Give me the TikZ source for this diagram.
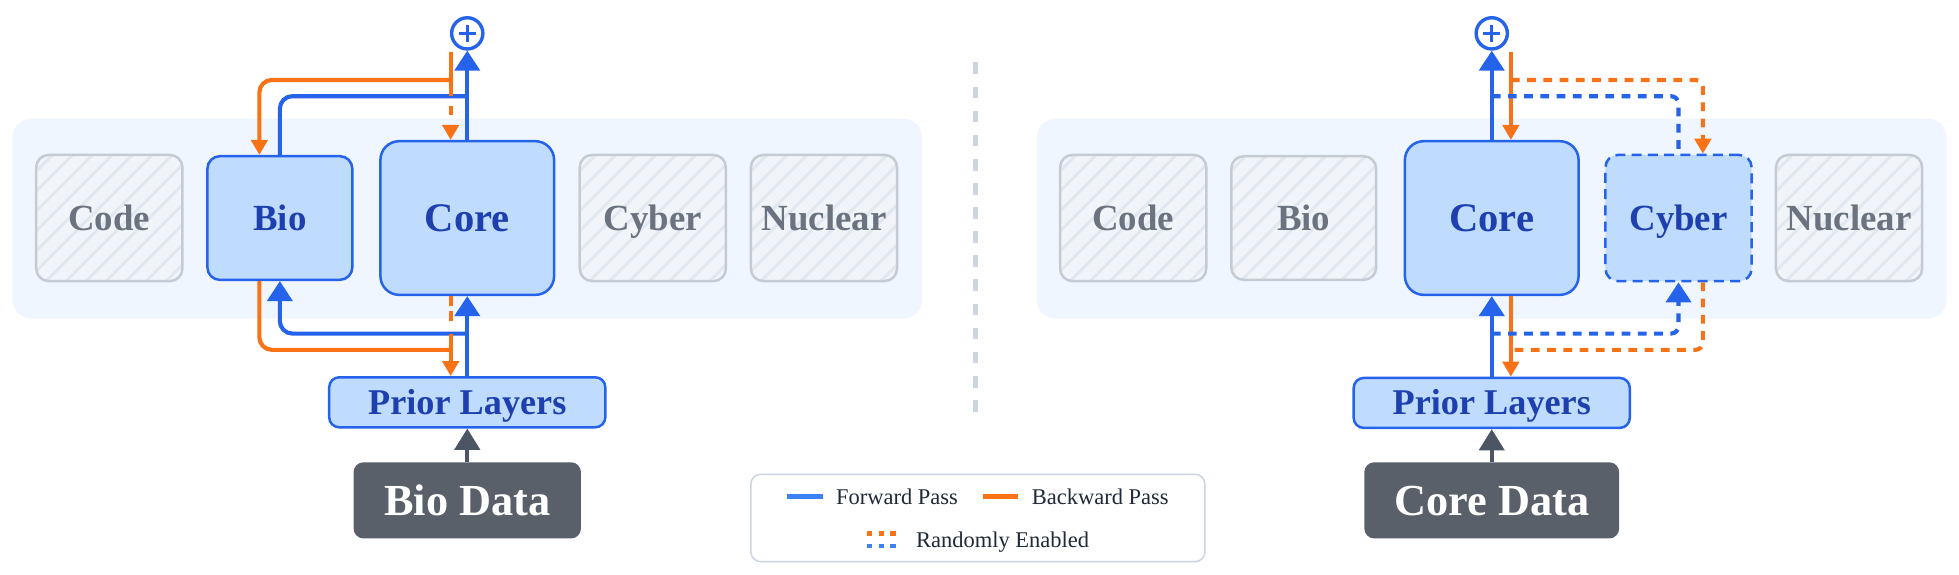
\documentclass[tikz,border=0pt]{standalone}
\usepackage{fontspec}
\setmainfont{Liberation Serif}
\usetikzlibrary{arrows.meta,calc}
\definecolor{panelbg}{HTML}{EFF6FF}
\definecolor{actfill}{HTML}{BFDBFE}
\definecolor{actdraw}{HTML}{2563EB}
\definecolor{acttext}{HTML}{1E40AF}
\definecolor{inafill}{HTML}{F1F5F9}
\definecolor{inadraw}{HTML}{C5CBD3}
\definecolor{inahatch}{HTML}{E2E8F0}
\definecolor{inatext}{HTML}{6B7280}
\definecolor{fwd}{HTML}{2563EB}
\definecolor{bwd}{HTML}{F97316}
\definecolor{datafill}{HTML}{5A6069}
\definecolor{grayarrow}{HTML}{4B5563}
\definecolor{legfwd}{HTML}{3B82F6}
\definecolor{legdraw}{HTML}{CBD5E1}
\definecolor{legtext}{HTML}{1F2937}
\definecolor{sepcol}{HTML}{CBD5E1}
\tikzset{
 panel/.style={fill=panelbg, rounded corners=15pt, minimum width=728pt, minimum height=160pt, inner sep=0pt},
 expert/.style={rounded corners=10pt, line width=2pt, minimum width=117pt, minimum height=101pt, inner sep=0pt,
   font=\fontsize{29.5}{31}\selectfont\bfseries, text height=19.5pt, text depth=0pt},
 active/.style={expert, fill=actfill, draw=actdraw, text=acttext},
 inactive/.style={expert, fill=inafill, draw=inadraw, text=inatext,
   path picture={\foreach \i in {-8,...,8}{\draw[inahatch, line width=2.4pt] ($(path picture bounding box.center)+(\i*16-70,70)$) -- ++(140,-140);}}},
 corebox/.style={active, rounded corners=15pt, minimum width=139pt, minimum height=123pt,
   font=\fontsize{32.5}{34}\selectfont\bfseries, text height=21.5pt},
 prior/.style={fill=actfill, draw=actdraw, line width=2pt, rounded corners=8pt, minimum width=221pt, minimum height=40pt,
   text=acttext, font=\fontsize{29}{31}\selectfont\bfseries, inner sep=0pt, text height=19.2pt, text depth=0pt},
 databox/.style={fill=datafill, rounded corners=8pt, minimum height=61pt, text=white,
   font=\fontsize{35.5}{37}\selectfont\bfseries, inner sep=0pt, text height=23.5pt, text depth=0pt},
 plus/.style={circle, draw=fwd, line width=2.7pt, fill=white, minimum size=25pt, inner sep=0pt,
   path picture={\draw[fwd, line width=2.2pt] ($(path picture bounding box.center)+(-6.7,0)$) -- ++(13.4,0)
     ($(path picture bounding box.center)+(0,-6.7)$) -- ++(0,13.4);}},
 fline/.style={draw=fwd, line width=3.3pt},
 bline/.style={draw=bwd, line width=3.3pt},
 ftip/.style={-{Triangle[width=20pt,length=16pt]}},
 btip/.style={-{Triangle[width=13pt,length=12pt]}},
 rnd/.style={dash pattern=on 7pt off 6pt},
 garrow/.style={draw=grayarrow, line width=3.3pt, -{Triangle[width=20pt,length=17pt]}},
 legtxt/.style={text=legtext, font=\fontsize{18}{20}\selectfont, inner sep=0pt},
 legline/.style={line width=3.5pt},
}
\begin{document}
\begin{tikzpicture}[x=1pt,y=-1pt]
\fill[white] (0,0) rectangle (1568,460);
\useasboundingbox (0,0) rectangle (1568,460);

% separator
\coordinate (Stop) at (781,50);
\coordinate (Sbot) at (781,330);
\draw[sepcol, line width=3.7pt, dash pattern=on 9.3pt off 10pt] (Stop) -- (Sbot);

% ================= LEFT =================
\node[panel] (Lpanel) at (374,175) {};
\node[inactive] (Lcode) at (87.5,174.5) {Code};
\node[active, minimum width=116pt, minimum height=99pt] (Lbio) at (224,174.5) {Bio};
\node[corebox] (Lcore) at (374,174.5) {Core};
\node[inactive] (Lcyber) at (522.5,174.5) {Cyber};
\node[inactive] (Lnuc) at (659.5,174.5) {Nuclear};
\node[plus] (Lplus) at (374,26.7) {};
\node[prior] (Lprior) at (374,322) {Prior Layers};
\node[databox, minimum width=182pt] (Ldata) at (374,400.5) {Bio Data};

\coordinate (Ltopo) at (360.7,42);
\coordinate (Lob) at (360.7,64);
\coordinate (Loj) at (360.7,77);
\coordinate (Ljb) at (374,77);
\coordinate (Lbj) at (374,267);
\coordinate (Lboj) at (360.7,267);
\coordinate (Lbob) at (360.7,280);

% top
\draw[fline, ftip] (Lcore.north) -- (Lplus.south);
\draw[fline, rounded corners=10pt] (Lbio.north) |- (Ljb);
\draw[bline] (Ltopo) -- (Loj);
\draw[bline, btip, dash pattern=on 7pt off 8pt, dash phase=7pt] (Loj) -- (Loj |- Lcore.north);
\draw[bline, btip, rounded corners=10pt] (Lob) -| ($(Lbio.north)+(-16.4,0)$);
% bottom
\draw[fline, ftip] (Lprior.north) -- (Lcore.south);
\draw[fline, ftip, rounded corners=10pt] (Lbj) -| (Lbio.south);
\draw[bline, dash pattern=on 8pt off 4pt] (Lcore.south -| Lboj) -- ($(Lboj)+(0,-8)$);
\draw[bline, btip] (Lboj) -- (Lboj |- Lprior.north);
\draw[bline, rounded corners=10pt] ($(Lbio.south)+(-16.4,0)$) |- (Lbob);
\draw[garrow] (Ldata.north) -- (Lprior.south);

% ================= RIGHT =================
\node[panel] (Rpanel) at (1194,175) {};
\node[inactive] (Rcode) at (907,174.5) {Code};
\node[inactive, minimum width=116pt, minimum height=99pt] (Rbio) at (1043.5,174.5) {Bio};
\node[corebox] (Rcore) at (1194,174.5) {Core};
\node[active, dash pattern=on 8pt off 5pt] (Rcyber) at (1343.5,174.5) {Cyber};
\node[inactive] (Rnuc) at (1480,174.5) {Nuclear};
\node[plus] (Rplus) at (1194,26.7) {};
\node[prior] (Rprior) at (1194,322.5) {Prior Layers};
\node[databox, minimum width=204pt] (Rdata) at (1194,400.5) {Core Data};

\coordinate (Rtopo) at (1209.3,42);
\coordinate (Rob) at (1209.3,64);
\coordinate (Rjb) at (1194,77);
\coordinate (Rbj) at (1194,267);
\coordinate (Rbob) at (1209.3,280);

% top
\draw[fline, ftip] (Rcore.north) -- (Rplus.south);
\draw[bline, btip] (Rtopo) -- (Rtopo |- Rcore.north);
\draw[bline, btip, rnd, rounded corners=6pt] (Rob) -| ($(Rcyber.north)+(19.5,0)$);
\draw[fline, rnd, rounded corners=6pt] (Rjb) -| (Rcyber.north);
% bottom
\draw[fline, ftip] (Rprior.north) -- (Rcore.south);
\draw[bline, btip] (Rcore.south -| Rtopo) -- (Rtopo |- Rprior.north);
\draw[fline, ftip, rnd, rounded corners=6pt] (Rbj) -| (Rcyber.south);
\draw[bline, rnd, rounded corners=6pt] ($(Rcyber.south)+(19.5,0)$) |- (Rbob);
\draw[garrow] (Rdata.north) -- (Rprior.south);

% ================= LEGEND =================
\node[draw=legdraw, line width=1.2pt, fill=white, rounded corners=8pt, minimum width=363.5pt, minimum height=70pt, inner sep=0pt] (legend) at (782.7,414.6) {};
\coordinate (lf1) at (629.6,397.5);
\coordinate (lf2) at (658.5,397.5);
\coordinate (lb1) at (786.5,397.5);
\coordinate (lb2) at (815,397.5);
\coordinate (lr1) at (693.7,427);
\coordinate (lr2) at (717.7,427);
\coordinate (lr3) at (693.7,437);
\coordinate (lr4) at (717.7,437);
\draw[legline, legfwd] (lf1) -- (lf2);
\node[legtxt, anchor=base west] (lft) at (669,403.7) {Forward Pass};
\draw[legline, bwd] (lb1) -- (lb2);
\node[legtxt, anchor=base west] (lbt) at (825.7,403.7) {Backward Pass};
\draw[legline, bwd, dash pattern=on 4.5pt off 5pt] (lr1) -- (lr2);
\draw[legline, legfwd, dash pattern=on 4.5pt off 5pt] (lr3) -- (lr4);
\node[legtxt, anchor=base west] (lrt) at (733,438) {Randomly Enabled};
\end{tikzpicture}
\end{document}
